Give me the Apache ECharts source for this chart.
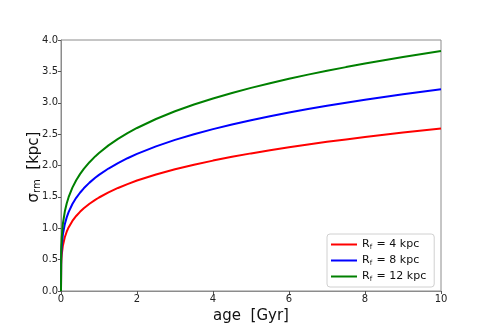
<!DOCTYPE html>
<html>
<head>
<meta charset="utf-8">
<script src="https://cdn.jsdelivr.net/npm/echarts@6/dist/echarts.min.js"></script>
<style>html,body{margin:0;padding:0;background:#fff}#c{width:491px;height:327px}</style>
</head>
<body>
<div id="c"></div>
<script>
const ages = [0, 0.005, 0.01, 0.02, 0.05, 0.1, 0.15, 0.2, 0.3, 0.4, 0.5, 0.6, 0.75, 0.9, 1, 1.25, 1.5, 1.75, 2, 2.5, 3, 3.5, 4, 4.5, 5, 5.5, 6, 6.5, 7, 7.5, 8, 8.5, 9, 9.5, 10];
const sigmaR4 = [0, 0.418, 0.493, 0.583, 0.726, 0.857, 0.945, 1.013, 1.116, 1.196, 1.262, 1.318, 1.391, 1.453, 1.490, 1.572, 1.642, 1.704, 1.760, 1.857, 1.940, 2.013, 2.078, 2.138, 2.193, 2.243, 2.291, 2.335, 2.377, 2.416, 2.454, 2.490, 2.525, 2.558, 2.589];
const sigmaR8 = [0, 0.519, 0.613, 0.724, 0.902, 1.065, 1.173, 1.257, 1.386, 1.485, 1.566, 1.637, 1.727, 1.804, 1.850, 1.952, 2.039, 2.116, 2.185, 2.305, 2.408, 2.499, 2.580, 2.654, 2.722, 2.785, 2.844, 2.899, 2.951, 3.000, 3.047, 3.092, 3.135, 3.176, 3.215];
const sigmaR12 = [0, 0.617, 0.728, 0.860, 1.072, 1.266, 1.395, 1.495, 1.648, 1.766, 1.863, 1.946, 2.053, 2.145, 2.200, 2.321, 2.425, 2.516, 2.598, 2.741, 2.864, 2.972, 3.068, 3.156, 3.237, 3.312, 3.382, 3.448, 3.509, 3.568, 3.624, 3.677, 3.728, 3.776, 3.823];
const seriesNames = ['4 kpc', '8 kpc', '12 kpc'];
const colors = ['#ff0000', '#0000ff', '#008000'];
const xTicks = [0, 2, 4, 6, 8, 10];
const yTicks = [0, 0.5, 1, 1.5, 2, 2.5, 3, 3.5, 4];

const font = 'DejaVu Sans';
const pair = (ys) => ages.map((a, i) => [a, ys[i]]);
const allY = [sigmaR4, sigmaR8, sigmaR12];

const chart = echarts.init(document.getElementById('c'), null, {renderer: 'canvas'});
chart.setOption({
  animation: false,
  backgroundColor: '#fff',
  grid: {left: 61, right: 50, top: 40, bottom: 36, outerBoundsMode: 'none', containLabel: false,
         show: true, borderColor: '#8c8c8c', borderWidth: 1, backgroundColor: 'transparent'},
  xAxis: {
    type: 'value', min: 0, max: 10, interval: 2,
    name: 'age  [Gyr]', nameLocation: 'middle', nameGap: 8,
    nameTextStyle: {fontFamily: font, fontSize: 15, color: '#111', padding: [1, 0, 0, 0]},
    axisLine: {show: true, lineStyle: {color: '#8c8c8c', width: 1}},
    axisTick: {show: true, length: 3, lineStyle: {color: '#555'}},
    axisLabel: {fontFamily: font, fontSize: 10, color: '#222', margin: 3, formatter: v => xTicks.includes(v) ? String(v) : ''},
    splitLine: {show: false}
  },
  yAxis: {
    type: 'value', min: 0, max: 4, interval: 0.5,
    axisLine: {show: true, lineStyle: {color: '#8c8c8c', width: 1}},
    axisTick: {show: true, length: 3, lineStyle: {color: '#555'}},
    axisLabel: {fontFamily: font, fontSize: 10, color: '#222', margin: 3, formatter: v => yTicks.includes(v) ? v.toFixed(1) : ''},
    splitLine: {show: false}
  },
  legend: {
    orient: 'vertical', left: 327, top: 234,
    padding: [4, 8, 4, 4], itemGap: 3,
    borderColor: '#d0d0d0', borderWidth: 1, borderRadius: 3,
    backgroundColor: '#fff',
    icon: 'rect', itemWidth: 26, itemHeight: 2,
    data: seriesNames.map(n => ({name: n})),
    formatter: n => '{a|R}{s|f}{a| = ' + n + '}',
    textStyle: {
      fontFamily: font, fontSize: 11, color: '#111', lineHeight: 13,
      rich: {
        a: {fontFamily: font, fontSize: 11, color: '#111'},
        s: {fontFamily: font, fontSize: 7, color: '#111', verticalAlign: 'bottom', padding: [4, 1, 0, 0]}
      }
    }
  },
  graphic: [{
    type: 'text', rotation: Math.PI / 2,
    x: 34, y: 167,
    style: {
      text: '{a|σ}{s|rm}{a|  [kpc]}',
      fontFamily: font, fill: '#111',
      align: 'center', verticalAlign: 'middle',
      rich: {
        a: {fontFamily: font, fontSize: 15, fill: '#111'},
        s: {fontFamily: font, fontSize: 10, fill: '#111', padding: [6, 0, 0, 0]}
      }
    }
  }],
  series: seriesNames.map((n, i) => ({
    name: n, type: 'line', data: pair(allY[i]),
    showSymbol: false, smooth: false,
    lineStyle: {color: colors[i], width: 2},
    itemStyle: {color: colors[i]}
  }))
});
</script>
</body>
</html>
